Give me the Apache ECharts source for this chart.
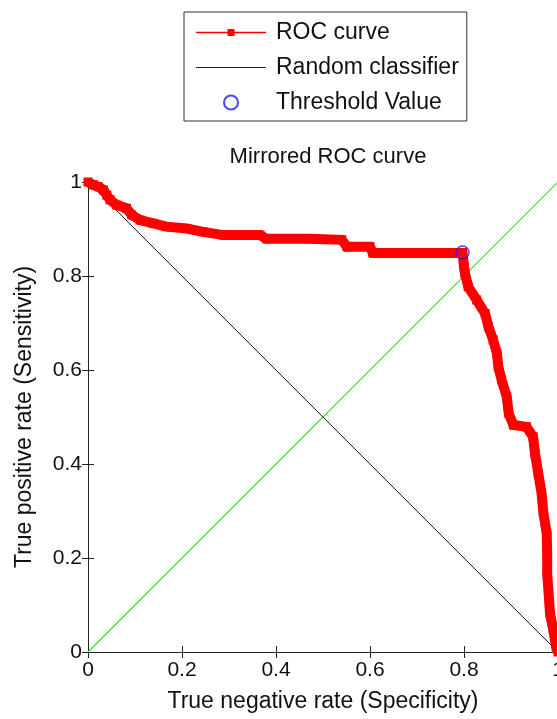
<!DOCTYPE html>
<html>
<head>
<meta charset="utf-8">
<script src="https://cdn.jsdelivr.net/npm/echarts@6/dist/echarts.min.js"></script>
<style>
html,body{margin:0;padding:0;background:#fff;}
#chart{width:557px;height:719px;}
</style>
</head>
<body>
<div id="chart"></div>
<script>
// ---- data ----
var rocX = [0, 0.011, 0.022, 0.033, 0.040, 0.047, 0.061, 0.082, 0.093, 0.111, 0.139, 0.167, 0.210, 0.245, 0.288, 0.366, 0.380, 0.472, 0.540, 0.551, 0.600, 0.606, 0.797, 0.800, 0.802, 0.809, 0.827, 0.845, 0.852, 0.862, 0.870, 0.873, 0.880, 0.891, 0.895, 0.905, 0.933, 0.947, 0.951, 0.958, 0.965, 0.969, 0.976, 0.977, 0.977, 0.980, 0.983, 0.990, 0.996, 1.000];
var rocY = [1, 0.994, 0.990, 0.983, 0.972, 0.962, 0.951, 0.944, 0.930, 0.919, 0.912, 0.905, 0.901, 0.894, 0.887, 0.887, 0.879, 0.879, 0.877, 0.862, 0.862, 0.849, 0.849, 0.820, 0.806, 0.777, 0.749, 0.720, 0.692, 0.664, 0.636, 0.607, 0.579, 0.543, 0.508, 0.483, 0.479, 0.458, 0.423, 0.380, 0.338, 0.295, 0.252, 0.210, 0.167, 0.125, 0.082, 0.047, 0.011, 0];
var randomX = [0, 1];
var randomY = [1, 0];
var diagX = [0, 1];
var diagY = [0, 1];
var thresholdX = [0.797];
var thresholdY = [0.85];
var tickLabels = ['0', '0.2', '0.4', '0.6', '0.8', '1'];

function pairs(xs, ys) { return xs.map(function (x, i) { return [x, ys[i]]; }); }

var FONT = '"Liberation Sans", Arial, sans-serif';
var axisColor = '#222';
var GREEN = '#33e033';

var chart = echarts.init(document.getElementById('chart'), null, {renderer: 'canvas'});
var labelFmt = function (v) { return tickLabels[Math.round(v * 5)]; };

var option = {
  backgroundColor: '#fff',
  animation: false,
  title: {
    text: 'Mirrored ROC curve',
    left: 323, top: 141, textAlign: 'center',
    textStyle: {fontFamily: FONT, fontSize: 22, fontWeight: 'normal', color: '#111'}
  },
  legend: {
    orient: 'vertical',
    left: 184, top: 12,
    padding: [9, 8, 7, 12],
    itemWidth: 70, itemHeight: 14, itemGap: 12,
    borderColor: '#333', borderWidth: 1,
    textStyle: {fontFamily: FONT, fontSize: 23, color: '#111', lineHeight: 22, padding: [0, 0, 0, 5]},
    data: [
      {name: 'ROC curve', icon: 'path://M0,6.3H31.5V3.5H38.5V6.3H70V7.7H38.5V10.5H31.5V7.7H0Z'},
      {name: 'Random classifier', icon: 'path://M0,0H70V1.2H0Z'},
      {name: 'Threshold Value'}
    ]
  },
  grid: {left: 88, top: 182, width: 470, height: 470, outerBoundsMode: 'none', containLabel: false},
  xAxis: [{
    type: 'value', min: 0, max: 1, interval: 0.2, position: 'bottom',
    name: 'True negative rate (Specificity)', nameLocation: 'middle', nameGap: 38,
    nameTextStyle: {fontFamily: FONT, fontSize: 23, color: '#111'},
    axisLine: {show: true, lineStyle: {color: axisColor, width: 1}},
    axisTick: {show: true, inside: true, length: 6, lineStyle: {color: axisColor}},
    axisLabel: {fontFamily: FONT, fontSize: 21, color: '#111', margin: 8, formatter: labelFmt},
    splitLine: {show: false}
  }, {
    type: 'value', min: 0, max: 1, interval: 0.2, position: 'top',
    axisLine: {show: true, lineStyle: {color: axisColor, width: 1}},
    axisTick: {show: true, inside: true, length: 6, lineStyle: {color: axisColor}},
    axisLabel: {show: false},
    splitLine: {show: false}
  }],
  yAxis: [{
    type: 'value', min: 0, max: 1, interval: 0.2, position: 'left',
    name: 'True positive rate (Sensitivity)', nameLocation: 'middle', nameGap: 52,
    nameTextStyle: {fontFamily: FONT, fontSize: 23, color: '#111'},
    axisLine: {show: true, lineStyle: {color: axisColor, width: 1}},
    axisTick: {show: true, inside: true, length: 6, lineStyle: {color: axisColor}},
    axisLabel: {fontFamily: FONT, fontSize: 21, color: '#111', margin: 6, formatter: labelFmt},
    splitLine: {show: false}
  }, {
    type: 'value', min: 0, max: 1, interval: 0.2, position: 'right',
    axisLine: {show: true, lineStyle: {color: axisColor, width: 1}},
    axisTick: {show: true, inside: true, length: 6, lineStyle: {color: axisColor}},
    axisLabel: {show: false},
    splitLine: {show: false}
  }],
  series: [{
    name: 'Diagonal', type: 'line', xAxisIndex: 0, yAxisIndex: 0,
    data: pairs(diagX, diagY), symbol: 'none', color: GREEN,
    itemStyle: {color: GREEN},
    lineStyle: {color: GREEN, width: 1.2, opacity: 1},
    emphasis: {disabled: true}, silent: true, z: 1
  }, {
    name: 'Random classifier', type: 'line', xAxisIndex: 0, yAxisIndex: 0,
    data: pairs(randomX, randomY), symbol: 'none', color: '#222',
    itemStyle: {color: '#222'},
    lineStyle: {color: '#222', width: 1}, z: 2
  }, {
    name: 'ROC curve', type: 'line', xAxisIndex: 0, yAxisIndex: 0,
    data: pairs(rocX, rocY), symbol: 'rect', symbolSize: 9, showSymbol: true, color: '#ff0000',
    itemStyle: {color: '#ff0000'},
    lineStyle: {color: '#ff0000', width: 10, join: 'miter'}, clip: false, z: 3
  }, {
    name: 'Threshold Value', type: 'scatter', xAxisIndex: 0, yAxisIndex: 0,
    data: pairs(thresholdX, thresholdY), symbol: 'circle', symbolSize: 13,
    itemStyle: {color: 'rgba(0,0,0,0)', borderColor: '#1a1aff', borderWidth: 1.3}, z: 4
  }]
};
chart.setOption(option);
</script>
</body>
</html>
